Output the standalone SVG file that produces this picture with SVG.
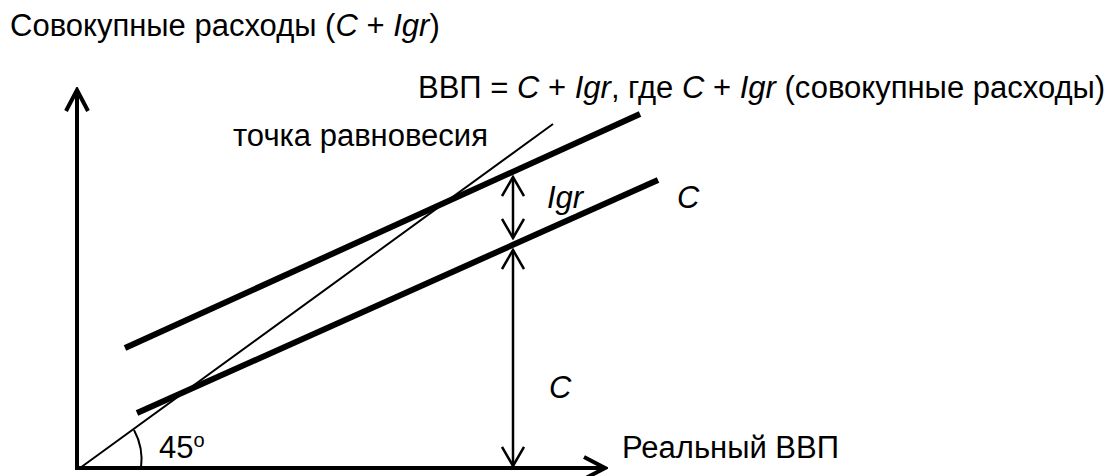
<svg xmlns="http://www.w3.org/2000/svg" width="1112" height="476" viewBox="0 0 1112 476">
<style>
text{font-family:"Liberation Sans",Arial,sans-serif;font-size:31px;fill:#000}
.it{font-style:italic}
.axis{stroke:#000;stroke-width:4;fill:none}
.thick{stroke:#000;stroke-width:6;fill:none;stroke-linecap:butt}
.thin{stroke:#000;stroke-width:2;fill:none}
.arr{stroke:#000;stroke-width:2.5;fill:none}
</style>
<defs>
<marker id="ah" viewBox="0 0 24 24" refX="22" refY="12" markerWidth="24" markerHeight="24" markerUnits="userSpaceOnUse" orient="auto-start-reverse"><path d="M3,1 L22,12 L3,23" fill="none" stroke="#000" stroke-width="2.5"/></marker>
<marker id="ahx" viewBox="0 0 26 26" refX="23" refY="13" markerWidth="26" markerHeight="26" markerUnits="userSpaceOnUse" orient="auto"><path d="M2,2 L23,13 L2,24" fill="none" stroke="#000" stroke-width="4"/></marker>
</defs>
<rect width="1112" height="476" fill="#fff"/>
<g id="axes">
<line class="axis" x1="77" y1="470" x2="77" y2="90" marker-end="url(#ahx)"/>
<line class="axis" x1="75" y1="468" x2="605" y2="468" marker-end="url(#ahx)"/>
</g>
<g id="curves">
<line id="line45" class="thin" x1="80" y1="468" x2="553" y2="124"/>
<line id="agg" class="thick" x1="125" y1="348" x2="640" y2="114"/>
<line id="cons" class="thick" x1="137" y1="413" x2="658" y2="180"/>
<path id="angle" class="thin" d="M134 430 A 62 62 0 0 1 141 468"/>
</g>
<g id="connectors">
<line class="arr" x1="513" y1="177" x2="513" y2="238" marker-start="url(#ah)" marker-end="url(#ah)"/>
<line class="arr" x1="513" y1="250" x2="513" y2="466" marker-start="url(#ah)" marker-end="url(#ah)"/>
</g>
<g id="labels">
<text x="10" y="36">Совокупные расходы (<tspan class="it">C</tspan> + <tspan class="it">Igr</tspan>)</text>
<text x="418" y="98">ВВП = <tspan class="it">C</tspan> + <tspan class="it">Igr</tspan>, где <tspan class="it">C</tspan> + <tspan class="it">Igr</tspan> (совокупные расходы)</text>
<text x="233" y="146">точка равновесия</text>
<text class="it" x="547" y="208">Igr</text>
<text class="it" x="677" y="208">C</text>
<text class="it" x="549" y="398">C</text>
<text x="159" y="458">45<tspan font-size="20" dy="-11">o</tspan></text>
<text x="622" y="458">Реальный ВВП</text>
</g>
</svg>
